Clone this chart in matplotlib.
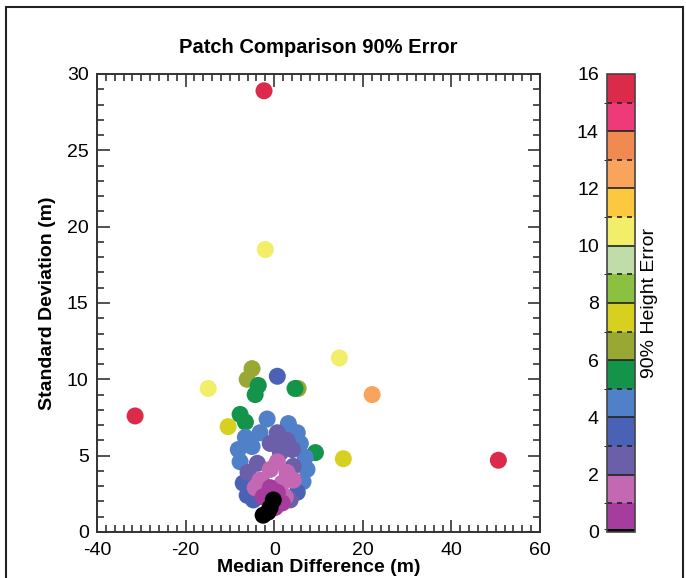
import numpy as np
import matplotlib.pyplot as plt
from matplotlib.colors import ListedColormap, BoundaryNorm
from matplotlib.patches import Rectangle

plt.rcParams['font.family'] = ['Liberation Sans', 'DejaVu Sans']
plt.rcParams['axes.unicode_minus'] = False

# median difference (m), standard deviation (m), 90% height error
med_diff = [-2.3, -2.0, -31.4, 50.6, 22.1, 14.7, 15.6, -14.9, -10.4,
            -5.0, -6.1, -3.6, -4.3, 0.7, 4.7, 5.4, -7.7, -6.5, 9.3,
            -1.6, 3.2, -3.2, -6.5, -8.1, -7.7, 5.9, 7.0, 7.4, 6.5, 5.2, 1.4, -5.0,
            0.7, 2.9, -0.9, 4.1, 1.4, -3.8, -5.9, -7.0, -6.1, -4.7, 4.3, 5.2, 3.6, -2.7,
            0.7, 2.9, -0.9, -3.2, -4.3, 4.3, 1.8, 2.5,
            -0.9, 0.7, -2.5, 1.8, 0.2,
            -0.2, -0.9, -2.5, -1.4]
std_dev = [28.9, 18.5, 7.6, 4.7, 9.0, 11.4, 4.8, 9.4, 6.9,
           10.7, 10.0, 9.6, 9.0, 10.2, 9.4, 9.4, 7.7, 7.2, 5.2,
           7.4, 7.1, 6.5, 6.2, 5.4, 4.6, 5.8, 4.9, 4.1, 3.3, 6.5, 6.2, 5.6,
           6.5, 6.0, 5.8, 5.4, 5.2, 4.5, 3.9, 3.2, 2.4, 2.1, 4.3, 2.6, 2.1, 3.2,
           4.6, 3.9, 4.1, 3.4, 2.9, 3.4, 3.2, 2.3,
           2.9, 2.6, 2.3, 1.9, 1.6,
           2.1, 1.6, 1.1, 1.3]
height_err = [15.5, 10.5, 15.5, 15.5, 12.5, 10.5, 7.5, 10.5, 7.5,
              6.5, 6.5, 5.5, 5.5, 3.5, 5.5, 6.5, 5.5, 5.5, 5.5,
              4.5, 4.5, 4.5, 4.5, 4.5, 4.5, 4.5, 4.5, 4.5, 4.5, 4.5, 4.5, 4.5,
              2.5, 2.5, 2.5, 2.5, 2.5, 2.5, 2.5, 3.5, 3.5, 3.5, 2.5, 3.5, 2.5, 2.5,
              1.5, 1.5, 1.5, 1.5, 1.5, 1.5, 1.5, 1.5,
              0.5, 0.5, 0.5, 0.5, 0.5,
              0.0, 0.0, 0.0, 0.0]

level_colors = ['#000000', '#a63d9e', '#c468b4', '#6a5fa8', '#4a62b5', '#4f80c8',
                '#14944a', '#98a832', '#d8d020', '#8cc040', '#c0dca8',
                '#f2ee6a', '#fcc840', '#f8a45c', '#f08a50', '#ee3a78', '#dc2a4a']
bounds = [0, 0.12] + list(range(1, 17))

cmap = ListedColormap(level_colors)
norm = BoundaryNorm(bounds, cmap.N)

fig = plt.figure(figsize=(6.86, 5.78), dpi=100)
ax = fig.add_axes([0.1414, 0.0796, 0.6458, 0.7924])
cax = fig.add_axes([0.885, 0.0796, 0.0408, 0.7924])

# lower values drawn last so they sit on top
order = np.argsort(np.array(height_err))[::-1]
x = np.array(med_diff)[order]
y = np.array(std_dev)[order]
c = np.array(height_err)[order]
sc = ax.scatter(x, y, c=c, cmap=cmap, norm=norm, s=150, edgecolors='none', zorder=3)

ax.set_xlim(-40, 60)
ax.set_ylim(0, 30)
ax.set_xticks(np.arange(-40, 61, 20))
ax.set_xticks(np.arange(-40, 61, 2), minor=True)
ax.set_yticks(np.arange(0, 31, 5))
ax.set_yticks(np.arange(0, 31, 1), minor=True)
ax.tick_params(which='both', direction='in', top=True, right=True, color='#333333',
               labelsize=14, width=1.2)
ax.tick_params(which='major', length=9)
ax.tick_params(which='minor', length=5)
ax.tick_params(axis='x', pad=7)
ax.tick_params(axis='y', pad=6)
for sp in ax.spines.values():
    sp.set_linewidth(1.4)
    sp.set_color('#333333')
ax.set_xlabel('Median Difference (m)', fontsize=14, fontweight='bold', labelpad=0)
ax.set_ylabel('Standard Deviation (m)', fontsize=14, fontweight='bold', labelpad=8)
ax.set_title('Patch Comparison 90% Error', fontsize=14.5, fontweight='bold', pad=15)

cb = fig.colorbar(sc, cax=cax, spacing='proportional', ticks=list(range(0, 17, 2)))
cb.outline.set_linewidth(1.2)
cb.outline.set_edgecolor('#444444')
cax.yaxis.set_ticks_position('left')
cax.yaxis.set_label_position('right')
cax.tick_params(labelsize=14, length=0, pad=6)
for v in range(1, 16):
    if v % 2 == 0:
        cax.axhline(v, color='#222222', lw=1.2)
    else:
        cax.axhline(v, color='#222222', lw=1.2, ls=(0, (3, 3)))
cb.set_label('90% Height Error', fontsize=14, labelpad=4)

fig.patches.append(Rectangle((6 / 686, -0.1), 677 / 686, 1.1 - 7 / 578,
                             transform=fig.transFigure, fill=False,
                             edgecolor='#222222', lw=1.5))

fig.savefig('out.png', dpi=100)
